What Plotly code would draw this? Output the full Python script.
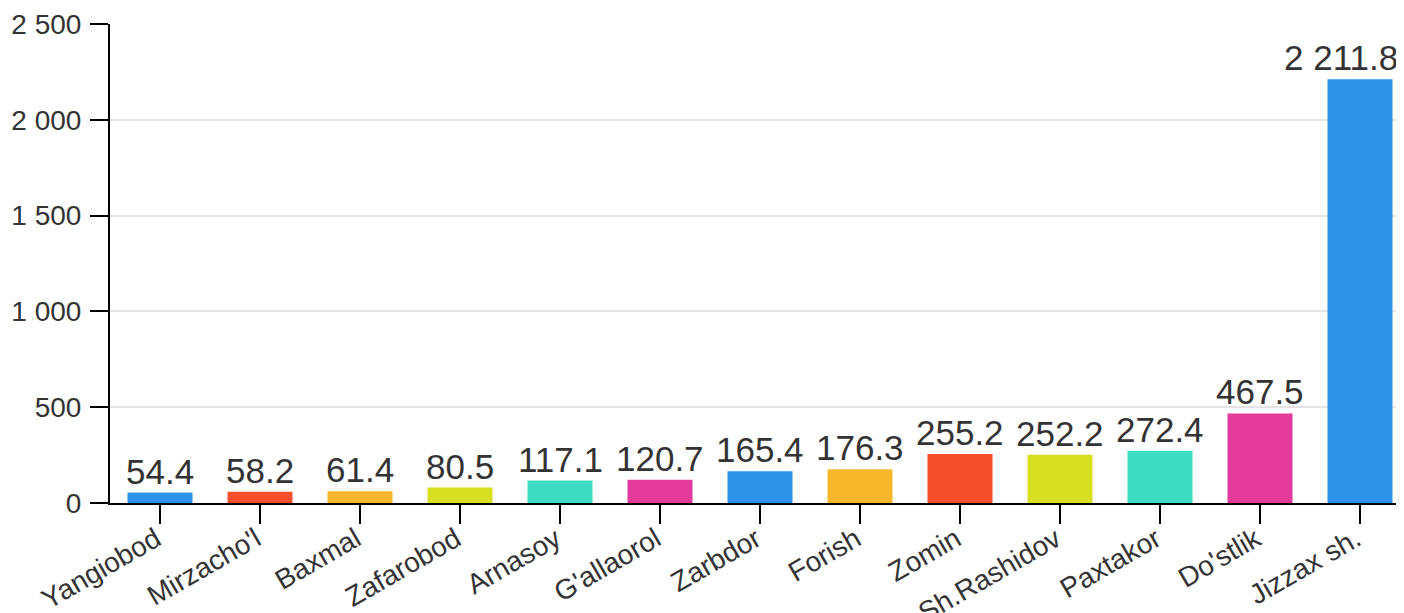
import plotly.graph_objects as go

categories = ["Yangiobod", "Mirzacho'l", "Baxmal", "Zafarobod", "Arnasoy", "G'allaorol",
              "Zarbdor", "Forish", "Zomin", "Sh.Rashidov", "Paxtakor", "Do'stlik", "Jizzax sh."]
values = [54.4, 58.2, 61.4, 80.5, 117.1, 120.7, 165.4, 176.3, 255.2, 252.2, 272.4, 467.5, 2211.8]
colors = ["#2f93e9", "#f54f2c", "#f6b82a", "#d6e021", "#3ddcc3", "#e43a99",
          "#2f93e9", "#f6b82a", "#f54f2c", "#d6e021", "#3ddcc3", "#e43a99", "#2f93e9"]
ytick_vals = [0, 500, 1000, 1500, 2000, 2500]

font_family = "Arial, Liberation Sans, sans-serif"


def fmt(v):
    return f"{v:,.1f}".replace(",", " ")


fig = go.Figure()
fig.add_trace(go.Bar(
    x=categories, y=values, marker=dict(color=colors, line=dict(width=0)),
    width=0.65, hoverinfo="skip",
))

annotations = []
for i, (c, v) in enumerate(zip(categories, values)):
    last = i == len(categories) - 1
    annotations.append(dict(
        x=c, y=v, xref="x", yref="y", text=fmt(v), showarrow=False,
        yanchor="bottom", xanchor="right" if last else "center",
        xshift=40 if last else 0, yshift=0,
        font=dict(family=font_family, size=35, color="#333333"),
    ))

fig.update_layout(
    width=1396, height=605,
    margin=dict(l=102, r=0, t=16, b=110),
    paper_bgcolor="white", plot_bgcolor="white",
    separators=". ",
    showlegend=False,
    font=dict(family=font_family, color="#333333"),
    annotations=annotations,
)
fig.update_xaxes(
    range=[-0.5, 12.44], showgrid=False, automargin=False,
    showline=True, linecolor="black", linewidth=2,
    ticks="outside", ticklen=19, tickwidth=2, tickcolor="black",
    tickangle=-30, ticklabelstandoff=-12, ticklabelshift=-4,
    tickfont=dict(size=28, color="#333333", family=font_family),
)
fig.update_yaxes(
    range=[0, 2500], tickvals=ytick_vals, tickformat=",", automargin=False,
    showgrid=True, gridcolor="#e3e3e3", gridwidth=2,
    showline=True, linecolor="black", linewidth=2, zeroline=False,
    ticks="outside", ticklen=18, tickwidth=2, tickcolor="black",
    ticklabelstandoff=3,
    tickfont=dict(size=28, color="#333333", family=font_family),
)

fig.write_html("out.html")
